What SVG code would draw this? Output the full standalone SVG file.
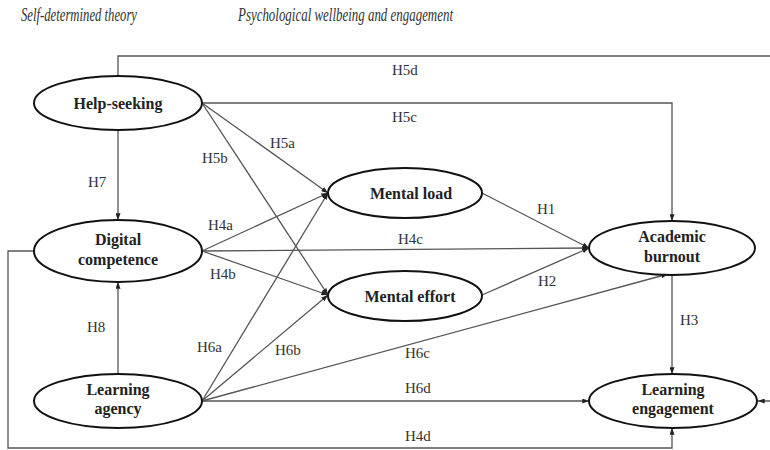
<svg xmlns="http://www.w3.org/2000/svg" width="770" height="450" viewBox="0 0 770 450">
<style>
.node ellipse{fill:#fff;stroke:#111;stroke-width:2}
.node text{font-family:"Liberation Serif","Times New Roman",serif;font-weight:bold;font-size:16px;fill:#222;text-anchor:middle}
.edges path{fill:none;stroke:#555;stroke-width:1.3}
.lbl{font-family:"Liberation Serif","Times New Roman",serif;font-size:15px;fill:#333}
.title{font-family:"Liberation Serif","Times New Roman",serif;font-style:italic;font-size:18.5px;fill:#333}
</style>
<defs>
<marker id="arr" viewBox="0 0 8 6" refX="8" refY="3" markerWidth="7" markerHeight="5" markerUnits="userSpaceOnUse" orient="auto">
<path d="M0,0 L8,3 L0,6 z" fill="#222"/>
</marker>
</defs>
<rect width="770" height="450" fill="#fff"/>
<text class="title" x="21" y="21" textLength="116" lengthAdjust="spacingAndGlyphs">Self-determined theory</text>
<text class="title" x="238" y="21" textLength="215" lengthAdjust="spacingAndGlyphs">Psychological wellbeing and engagement</text>
<g class="edges">
<path id="e-h5d" d="M118,75 V56 H773 V401 H758" marker-end="url(#arr)"/>
<path id="e-h5c" d="M202,103 H672 V221" marker-end="url(#arr)"/>
<path id="e-h5a" d="M202,103 L328,193" marker-end="url(#arr)"/>
<path id="e-h5b" d="M202,103 L328,295" marker-end="url(#arr)"/>
<path id="e-h7" d="M118,130 V220" marker-end="url(#arr)"/>
<path id="e-h4a" d="M202,251 L328,193" marker-end="url(#arr)"/>
<path id="e-h4c" d="M202,251 L589,248" marker-end="url(#arr)"/>
<path id="e-h4b" d="M202,251 L328,295" marker-end="url(#arr)"/>
<path id="e-h8" d="M118,374 V282" marker-end="url(#arr)"/>
<path id="e-h6a" d="M202,401 L328,193" marker-end="url(#arr)"/>
<path id="e-h6b" d="M202,401 L328,295" marker-end="url(#arr)"/>
<path id="e-h6c" d="M202,401 L668,274" marker-end="url(#arr)"/>
<path id="e-h6d" d="M202,401 L589,401" marker-end="url(#arr)"/>
<path id="e-h1" d="M482,193 L589,248" marker-end="url(#arr)"/>
<path id="e-h2" d="M482,295 L589,248" marker-end="url(#arr)"/>
<path id="e-h3" d="M672,275 V374" marker-end="url(#arr)"/>
<path id="e-h4d" d="M33,251 H8 V448 H672 V428" marker-end="url(#arr)"/>
</g>
<g id="labels">
<text class="lbl" x="392" y="75">H5d</text>
<text class="lbl" x="392" y="122">H5c</text>
<text class="lbl" x="270" y="148">H5a</text>
<text class="lbl" x="202" y="163">H5b</text>
<text class="lbl" x="88" y="187">H7</text>
<text class="lbl" x="208" y="230">H4a</text>
<text class="lbl" x="398" y="244">H4c</text>
<text class="lbl" x="210" y="279">H4b</text>
<text class="lbl" x="537" y="214">H1</text>
<text class="lbl" x="538" y="286">H2</text>
<text class="lbl" x="680" y="325">H3</text>
<text class="lbl" x="87" y="332">H8</text>
<text class="lbl" x="197" y="352">H6a</text>
<text class="lbl" x="275" y="355">H6b</text>
<text class="lbl" x="405" y="358">H6c</text>
<text class="lbl" x="405" y="393">H6d</text>
<text class="lbl" x="405" y="441">H4d</text>
</g>
<g id="help-seeking" class="node"><ellipse cx="118" cy="103" rx="84" ry="27"/><text x="118" y="109">Help-seeking</text></g>
<g id="digital-competence" class="node"><ellipse cx="118" cy="251" rx="84" ry="31"/><text x="118" y="245">Digital</text><text x="118" y="265">competence</text></g>
<g id="learning-agency" class="node"><ellipse cx="118" cy="401" rx="84" ry="27"/><text x="118" y="395">Learning</text><text x="118" y="414">agency</text></g>
<g id="mental-load" class="node"><ellipse cx="405" cy="193" rx="77" ry="25"/><text x="411" y="199">Mental load</text></g>
<g id="mental-effort" class="node"><ellipse cx="405" cy="296" rx="77" ry="25"/><text x="410" y="302">Mental effort</text></g>
<g id="academic-burnout" class="node"><ellipse cx="672" cy="248" rx="83" ry="27"/><text x="672" y="242">Academic</text><text x="672" y="262">burnout</text></g>
<g id="learning-engagement" class="node"><ellipse cx="673" cy="401" rx="84" ry="27"/><text x="673" y="395">Learning</text><text x="673" y="414">engagement</text></g>
</svg>
